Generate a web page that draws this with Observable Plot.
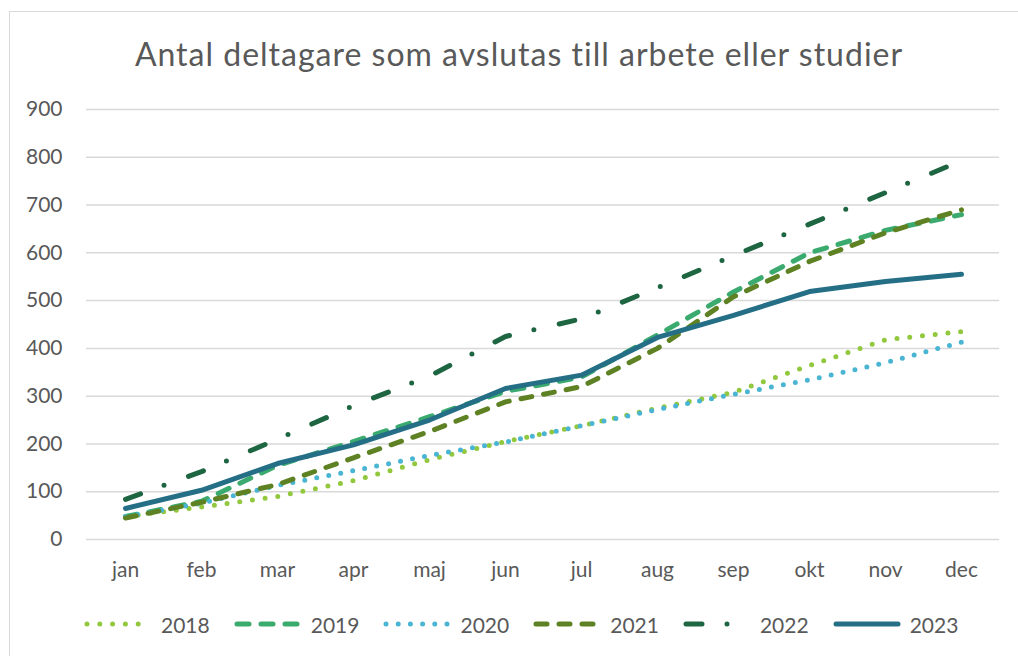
<!DOCTYPE html>
<html>
<head>
<meta charset="utf-8">
<script src="https://cdn.jsdelivr.net/npm/d3@7"></script>
<script src="https://cdn.jsdelivr.net/npm/@observablehq/plot@0.6"></script>
<style>
  html, body { margin: 0; padding: 0; background: #fff; }
  #wrap { position: relative; width: 1018px; height: 656px; overflow: hidden; font-family: Lato, "Open Sans", sans-serif; color: #595959; }
  #box { position: absolute; left: 9px; top: 11px; width: 1040px; height: 700px; border: 1.5px solid #d9d9d9; box-sizing: border-box; }
  #title { position: absolute; left: 0; top: 35px; width: 1038px; text-align: center; font-size: 32px; letter-spacing: 1px; line-height: 38px; white-space: nowrap; }
  #chart { position: absolute; left: 0; top: 0; }
  #legend { position: absolute; left: 84px; top: 609px; height: 30px; display: flex; align-items: center; font-size: 21px; }
  .item { display: flex; align-items: center; margin-right: 24px; }
  .item svg { margin-right: 9px; }
</style>
</head>
<body>
<div id="wrap">
  <div id="box"></div>
  <div id="title">Antal deltagare som avslutas till arbete eller studier</div>
  <div id="chart"></div>
  <div id="legend"></div>
</div>
<script>
const months = ["jan","feb","mar","apr","maj","jun","jul","aug","sep","okt","nov","dec"];
const years = ["2018","2019","2020","2021","2022","2023"];
const v2018 = [48, 68, 90, 123, 167, 205, 238, 275, 308, 364, 418, 435];
const v2019 = [48, 80, 155, 205, 257, 310, 340, 428, 518, 600, 647, 680];
const v2020 = [48, 76, 113, 144, 176, 204, 238, 272, 304, 334, 370, 413];
const v2021 = [45, 78, 115, 171, 226, 288, 320, 400, 508, 582, 642, 690];
const v2022 = [84, 142, 210, 280, 342, 425, 462, 527, 594, 660, 726, 793];
const v2023 = [65, 103, 159, 198, 250, 316, 344, 423, 469, 519, 540, 555];
const yTicks = [0, 100, 200, 300, 400, 500, 600, 700, 800, 900];

const seriesValues = [v2018, v2019, v2020, v2021, v2022, v2023];
const styles = {
  "2018": {stroke: "#92c83e", dash: "0 12.8", width: 5},
  "2019": {stroke: "#3baa6f", dash: "12 12", width: 5},
  "2020": {stroke: "#4ab5d3", dash: "0 12.2", width: 5},
  "2021": {stroke: "#5e8223", dash: "11 12", width: 5},
  "2022": {stroke: "#1e6642", dash: "16 25 0 26", width: 5},
  "2023": {stroke: "#256f86", dash: null, width: 5}
};

const rows = [];
years.forEach((yr, i) => {
  seriesValues[i].forEach((v, j) => rows.push({year: yr, month: months[j], value: v}));
});

const lineMarks = years.map(yr => Plot.line(rows.filter(d => d.year === yr), {
  x: "month", y: "value",
  stroke: styles[yr].stroke,
  strokeWidth: styles[yr].width,
  strokeDasharray: styles[yr].dash || undefined,
  strokeLinecap: "round",
  strokeLinejoin: "round"
}));

const chart = Plot.plot({
  width: 1018,
  height: 600,
  marginLeft: 86,
  marginRight: 19,
  marginTop: 109,
  marginBottom: 61,
  style: {fontFamily: "Lato, 'Open Sans', sans-serif", fontSize: "21px", color: "#595959", background: "transparent"},
  x: {type: "point", domain: months, padding: 0.5},
  y: {domain: [0, 900]},
  marks: [
    Plot.gridY(yTicks, {stroke: "#d9d9d9", strokeOpacity: 1, strokeWidth: 1.5}),
    Plot.axisY(yTicks, {tickSize: 0, tickPadding: 24, fontSize: 21, label: null}),
    Plot.axisX({tickSize: 0, tickPadding: 23, fontSize: 21, label: null}),
    ...lineMarks
  ]
});
document.getElementById("chart").appendChild(chart);

const legend = document.getElementById("legend");
years.forEach(yr => {
  const s = styles[yr];
  const item = document.createElement("div");
  item.className = "item";
  const svg = d3.create("svg").attr("width", 68).attr("height", 10);
  svg.append("line")
    .attr("x1", 3).attr("x2", 65).attr("y1", 5).attr("y2", 5)
    .attr("stroke", s.stroke).attr("stroke-width", s.width)
    .attr("stroke-linecap", "round")
    .attr("stroke-dasharray", s.dash);
  item.appendChild(svg.node());
  const t = document.createElement("span");
  t.textContent = yr;
  item.appendChild(t);
  legend.appendChild(item);
});
</script>
</body>
</html>
